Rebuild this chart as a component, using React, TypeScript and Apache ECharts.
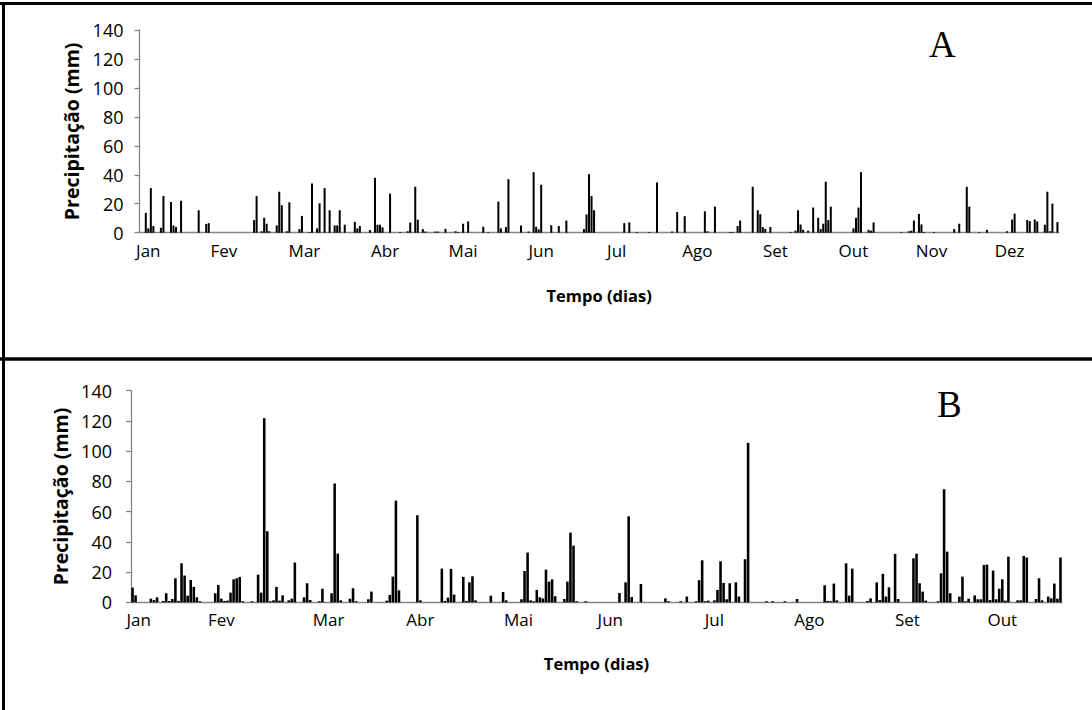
import React, { useEffect, useRef } from "react";
import * as echarts from "echarts";

// ---- Panel A (Jan–Dez, 365 days) ----
const DAYS_A = 365;
const monthLabelsA = ["Jan", "Fev", "Mar", "Abr", "Mai", "Jun", "Jul", "Ago", "Set", "Out", "Nov", "Dez"];
const labelDaysA = [3, 33, 65, 97, 128, 159, 189, 221, 252, 283, 314, 345];
const rainDaysA = [
  2, 3, 4, 5, 8, 9, 12, 13, 14, 16, 23, 26, 27, 45, 46, 48, 49, 50, 51, 54, 55, 56, 58, 59, 63, 64, 67, 68, 70, 71,
  73, 75, 77, 78, 79, 81, 85, 86, 87, 91, 93, 94, 95, 96, 99, 103, 106, 107, 109, 110, 112, 113, 117, 118, 121, 125,
  126, 128, 130, 136, 138, 142, 143, 145, 146, 151, 154, 156, 157, 158, 159, 163, 166, 169, 176, 177, 178, 179, 180,
  192, 194, 197, 202, 205, 211, 213, 216, 224, 225, 228, 234, 235, 237, 238, 243, 245, 246, 247, 248, 250, 258, 260,
  261, 262, 263, 265, 267, 269, 270, 271, 272, 273, 274, 283, 284, 285, 286, 289, 290, 291, 302, 305, 306, 307, 309,
  310, 311, 315, 323, 325, 328, 329, 333, 336, 344, 346, 347, 352, 353, 355, 356, 359, 360, 361, 362, 364,
];
const rainValuesA = [
  13.7, 3, 30.8, 4.6, 3.4, 25.3, 21.2, 5, 3.9, 22.1, 15.5, 6, 6.6, 8.7, 25.3, 1, 10.3, 6.2, 1, 5, 28.3, 19, 1, 21, 2.5,
  11.6, 0.5, 34, 3, 20.3, 30.8, 15.5, 5, 5, 15.5, 5.5, 7.5, 3, 4.6, 1.8, 37.9, 5.5, 5.5, 3.7, 27, 0.5, 1, 7, 31.7, 9,
  2.5, 0.8, 0.8, 0.8, 2.7, 1, 0.5, 6.2, 7.8, 4.1, 0.5, 21.5, 3, 3.9, 37, 5, 0.8, 41.8, 4.1, 2.3, 33.1, 5.2, 4.6, 8.4,
  2.5, 12.6, 40.4, 25.3, 15.5, 6.6, 7.1, 0.5, 0.5, 34.7, 0.8, 14.2, 11.4, 14.8, 1, 18, 0.5, 0.5, 4.6, 8.4, 31.7, 15.5,
  12.8, 3.9, 2.7, 3.9, 0.5, 1.4, 15.5, 5.7, 2, 1.4, 17.4, 10.3, 2.5, 6.2, 35.2, 8.7, 18, 3, 10.3, 17.4, 41.8, 2, 1.4,
  7.1, 0.5, 1, 1.4, 8.4, 13, 5.7, 0.5, 0.5, 2.5, 6.2, 31.7, 18, 0.5, 2, 1, 9.1, 13.2, 8.7, 8, 9.1, 7.8, 5.5, 28.3, 1,
  20.1, 7.3,
];

// ---- Panel B (Jan–Out, 304 days) ----
const DAYS_B = 304;
const monthLabelsB = ["Jan", "Fev", "Mar", "Abr", "Mai", "Jun", "Jul", "Ago", "Set", "Out"];
const labelDaysB = [2, 29, 64, 94, 126, 156, 190, 221, 253, 284];
const rainDaysB = [
  0, 1, 6, 7, 8, 10, 11, 12, 13, 14, 15, 16, 17, 18, 19, 20, 21, 22, 27, 28, 29, 30, 31, 32, 33, 34, 35, 36, 39, 41, 42,
  43, 44, 45, 46, 47, 48, 49, 51, 52, 53, 56, 57, 58, 61, 62, 65, 66, 67, 68, 71, 72, 73, 77, 78, 83, 84, 85, 86, 87,
  93, 94, 101, 102, 103, 104, 105, 108, 109, 110, 111, 112, 117, 121, 122, 127, 128, 129, 130, 131, 132, 133, 134, 135,
  136, 137, 138, 141, 142, 143, 144, 145, 148, 159, 161, 162, 163, 166, 174, 175, 179, 181, 184, 185, 186, 187, 188,
  190, 191, 192, 193, 194, 195, 197, 198, 200, 201, 207, 209, 213, 217, 226, 227, 228, 229, 230, 233, 234, 235, 240,
  241, 243, 244, 245, 246, 247, 249, 250, 255, 256, 257, 258, 259, 263, 264, 265, 266, 267, 270, 271, 272, 273, 275,
  276, 277, 278, 279, 280, 281, 282, 283, 284, 285, 286, 289, 290, 291, 292, 295, 296, 297, 299, 300, 301, 302, 303,
];
const rainValuesB = [
  9.7, 4.6, 2.4, 1.5, 3.3, 0.9, 6, 0.9, 2.2, 15.9, 0.9, 25.8, 17.7, 4.4, 14.8, 10.2, 3.3, 0.7, 6, 11.5, 2.4, 0.9, 1.1,
  6.4, 15.2, 15.9, 16.8, 0.7, 0.7, 18.3, 6.4, 121.8, 47, 0.7, 1.3, 10.2, 1.1, 4.6, 1.3, 2.4, 26.3, 3.3, 12.6, 1.5, 0.7,
  9, 6, 78.6, 32.2, 1.3, 2.4, 9.3, 0.7, 2, 7.1, 1.1, 4.9, 17, 67.3, 7.9, 57.6, 1.3, 22.3, 0.9, 3.1, 22.1, 5.1, 16.8,
  0.9, 13.2, 17.2, 1.3, 4.4, 6.8, 1.3, 2, 20.7, 32.9, 1.3, 0.7, 8.2, 3.3, 2.6, 21.6, 13.7, 15.2, 4, 2.2, 13.7, 46.1,
  37.5, 0.7, 0.7, 6.2, 13.2, 56.9, 3.5, 12.1, 2.6, 0.7, 0.7, 3.8, 0.7, 14.6, 27.8, 0.7, 1.1, 1.3, 8.2, 27.1, 12.8, 2,
  12.6, 13.2, 3.8, 28.5, 105.5, 0.7, 0.7, 0.7, 2.2, 11.3, 0.9, 0.7, 12.4, 1.3, 25.8, 4.4, 22.3, 0.9, 2.6, 13.2, 1.5,
  18.8, 3.8, 9.9, 32, 2.2, 29.1, 32.2, 12.6, 7.1, 1.1, 0.7, 19.2, 74.8, 33.5, 6, 3.8, 17, 0.7, 2.4, 4.6, 2, 2, 24.7,
  24.9, 1.5, 21, 2, 9, 15.2, 1.1, 30.2, 1.3, 1.3, 30.7, 29.6, 2.2, 15.9, 1.3, 3.8, 2.6, 12.4, 2.4, 29.6,
];

const yTicks = [0, 20, 40, 60, 80, 100, 120, 140];
const yAxisTitle = "Precipitação (mm)";
const xAxisTitle = "Tempo (dias)";

function buildSeries(n: number, days: number[], values: number[]) {
  const arr: number[] = new Array(n).fill(0);
  days.forEach((d, i) => {
    arr[d] = values[i];
  });
  return arr;
}

const FONT = "'Open Sans', Lato, sans-serif";

function xAxisFor(gridIndex: number, n: number, labelDays: number[], labels: string[], nameGap: number) {
  const map: Record<number, string> = {};
  labelDays.forEach((d, i) => (map[d] = labels[i]));
  return {
    gridIndex,
    type: "category",
    data: Array.from({ length: n }, (_, i) => String(i)),
    boundaryGap: true,
    axisLine: { show: true, lineStyle: { color: "#868686", width: 1.3 } },
    axisTick: { show: false },
    axisLabel: {
      interval: (index: number) => map[index] !== undefined,
      formatter: (_v: string, index: number) => map[index] ?? "",
      color: "#000",
      fontSize: 17,
      fontFamily: FONT,
      margin: 9,
    },
    splitLine: { show: false },
    name: xAxisTitle,
    nameLocation: "middle",
    nameGap,
    nameTextStyle: { color: "#000", fontSize: 16.5, fontWeight: "bold", fontFamily: FONT },
  };
}

function yAxisFor(gridIndex: number, labelMargin: number, nameGap: number) {
  return {
    gridIndex,
    type: "value",
    min: yTicks[0],
    max: yTicks[yTicks.length - 1],
    interval: yTicks[1] - yTicks[0],
    axisLine: { show: true, lineStyle: { color: "#868686", width: 1.3 } },
    axisTick: { show: true, length: 5, lineStyle: { color: "#868686", width: 1.3 } },
    axisLabel: { color: "#000", fontSize: 18, fontFamily: FONT, margin: labelMargin },
    splitLine: { show: false },
    name: yAxisTitle,
    nameLocation: "middle",
    nameGap,
    nameRotate: 90,
    nameTextStyle: { color: "#000", fontSize: 19.5, fontWeight: "bold", fontFamily: FONT },
  };
}

export default function App() {
  const ref = useRef<HTMLDivElement>(null);
  useEffect(() => {
    if (!ref.current) return;
    const chart = echarts.init(ref.current, undefined, { renderer: "svg" });
    const dataA = buildSeries(DAYS_A, rainDaysA, rainValuesA);
    const dataB = buildSeries(DAYS_B, rainDaysB, rainValuesB);
    chart.setOption({
      animation: false,
      backgroundColor: "#ffffff",
      grid: [
        { left: 139.5, top: 30, width: 919.2, height: 202.7, containLabel: false },
        { left: 131, top: 390.7, width: 931, height: 211.6, containLabel: false },
      ],
      xAxis: [xAxisFor(0, DAYS_A, labelDaysA, monthLabelsA, 54), xAxisFor(1, DAYS_B, labelDaysB, monthLabelsB, 53)],
      yAxis: [yAxisFor(0, 16, 57), yAxisFor(1, 19, 59)],
      series: [
        {
          type: "bar",
          xAxisIndex: 0,
          yAxisIndex: 0,
          data: dataA,
          barWidth: "80%",
          itemStyle: { color: "#000" },
          silent: true,
        },
        {
          type: "bar",
          xAxisIndex: 1,
          yAxisIndex: 1,
          data: dataB,
          barWidth: "84%",
          itemStyle: { color: "#000" },
          silent: true,
        },
      ],
      graphic: [
        { type: "line", shape: { x1: 0, y1: 3.5, x2: 1092, y2: 3.5 }, style: { stroke: "#000", lineWidth: 3 } },
        { type: "line", shape: { x1: 3.5, y1: 2, x2: 3.5, y2: 710 }, style: { stroke: "#000", lineWidth: 3 } },
        { type: "line", shape: { x1: 0, y1: 359, x2: 1092, y2: 359 }, style: { stroke: "#000", lineWidth: 3.5 } },
        {
          type: "text",
          left: 929,
          top: 26,
          style: { text: "A", fontSize: 37, fontFamily: "'Liberation Serif', 'Times New Roman', serif", fill: "#000" },
        },
        {
          type: "text",
          left: 937,
          top: 386,
          style: { text: "B", fontSize: 37, fontFamily: "'Liberation Serif', 'Times New Roman', serif", fill: "#000" },
        },
      ],
    });
    return () => chart.dispose();
  }, []);
  return (
    <div
      ref={ref}
      style={{ position: "fixed", left: 0, top: 0, width: 1092, height: 710, background: "#fff" }}
    />
  );
}
